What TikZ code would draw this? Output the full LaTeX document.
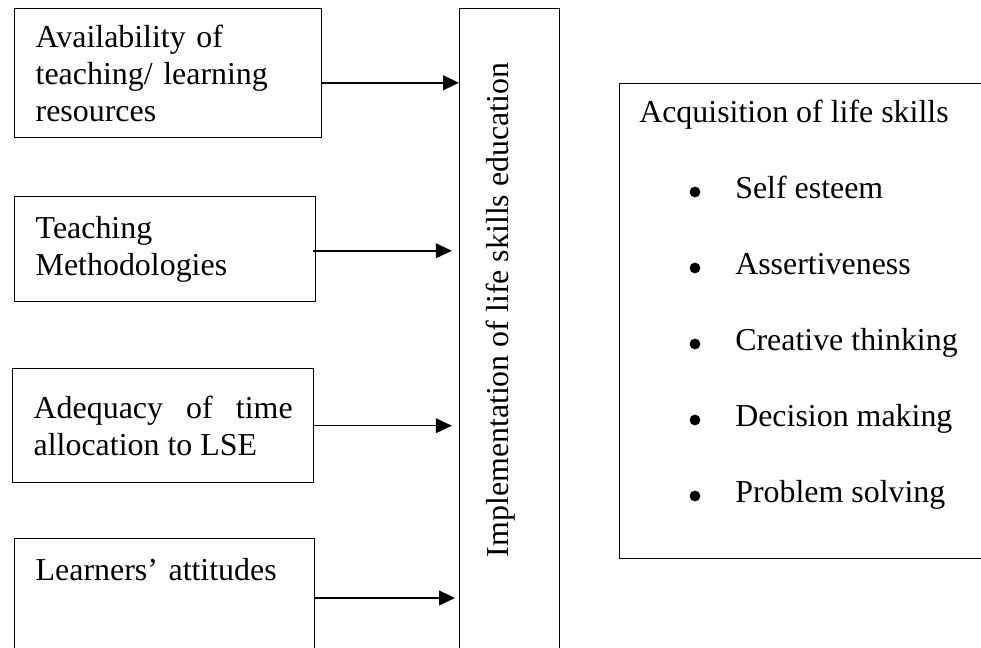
\documentclass[tikz,border=0pt]{standalone}
\usepackage{fontspec}
\setmainfont{Liberation Serif}
\usetikzlibrary{arrows.meta}
\begin{document}
\begin{tikzpicture}[
  box/.style={draw,line width=1pt,inner ysep=0pt,inner xsep=0.525cm,anchor=north west,align=left},
  arr/.style={line width=1.1pt,-{Triangle[length=0.4cm,width=0.37cm]}},
  dotmark/.style={circle,fill,inner sep=0pt,minimum size=0.27cm},
  font=\fontsize{22.7}{26.3}\selectfont]
\useasboundingbox (0,0) rectangle (24.525,16.2);
\clip (0,0) rectangle (24.525,16.2);

\node[box,text width=6.625cm,minimum height=3.225cm] (res) at (0.35,16) {Availability of\\teaching/ learning\\resources};
\node[box,text width=6.475cm,minimum height=2.625cm] (meth) at (0.35,11.3) {Teaching\\Methodologies};
\node[box,text width=6.475cm,minimum height=2.85cm,align=justify] (time) at (0.3,7) {\mbox{Adequacy} of time \mbox{allocation} to LSE};
\node[box,text width=6.45cm,inner ysep=0.5cm,text depth=3cm] (att) at (0.35,2.75) {Learners’ attitudes};

\node[draw,line width=1pt,minimum width=2.5cm,minimum height=17cm,anchor=north west,inner sep=0pt] (impl) at (11.475,16) {};
\node[rotate=90,inner sep=0pt] (implname) at (12.52,8.45) {Implementation of life skills education};

\node[draw,line width=1pt,minimum width=9.6cm,minimum height=11.875cm,anchor=north west,inner sep=0pt] (acq) at (15.475,14.125) {};
\node[anchor=base west,inner sep=0pt] (acqname) at (15.975,13.125) {Acquisition of life skills};
\foreach \s [count=\i from 0] in {Self esteem,Assertiveness,Creative thinking,Decision making,Problem solving} {
  \node[dotmark] (dot\i) at (17.375,11.4-1.9*\i) {};
  \node[anchor=base west,inner sep=0pt] (skill\i) at (18.375,11.225-1.9*\i) {\s};
}

\coordinate (a1) at ([yshift=-0.24cm]res.east);
\draw[arr] (a1) -- (a1 -| impl.west);
\coordinate (a2) at ([xshift=-0.08cm,yshift=-0.04cm]meth.east);
\draw[arr,shorten >=0.18cm] (a2) -- (a2 -| impl.west);
\draw[arr,shorten >=0.18cm] (time.east) -- (time.east -| impl.west);
\coordinate (a4) at ([yshift=-1.5cm]att.north east);
\draw[arr,shorten >=0.1cm] (a4) -- (a4 -| impl.west);
\end{tikzpicture}
\end{document}
